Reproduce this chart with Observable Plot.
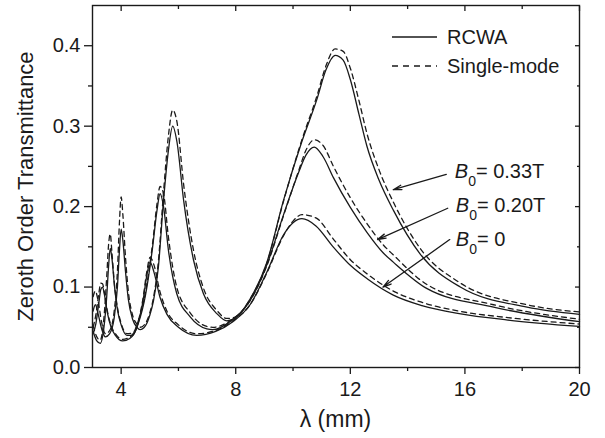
<!DOCTYPE html>
<html><head><meta charset="utf-8">
<script src="https://cdn.jsdelivr.net/npm/d3@7"></script>
<script src="https://cdn.jsdelivr.net/npm/@observablehq/plot@0.6"></script>
<style>
body{margin:0;background:#fff}
svg{font-family:"Liberation Sans",Arial,sans-serif}
</style>
</head><body><div id="chart"></div>
<script>
// wavelength grids (mm) and transmittance values per field
const lambdaB0 = [3.02,3.12,3.22,3.29,3.35,3.42,3.52,3.65,3.8,4.05,4.3,4.55,4.75,4.9,5.01,5.15,5.35,5.6,6.0,6.64,7.3,7.9,8.5,9.08,9.67,10.0,10.31,10.8,11.4,12.0,12.6,13.5,14.5,15.8,17.5,20];
const rcwaB0   = [0.042,0.055,0.080,0.097,0.100,0.090,0.068,0.050,0.040,0.033,0.036,0.050,0.080,0.115,0.131,0.118,0.088,0.066,0.050,0.040,0.045,0.057,0.078,0.118,0.165,0.180,0.185,0.176,0.150,0.127,0.110,0.090,0.077,0.067,0.059,0.051];
const singleB0 = [0.050,0.066,0.092,0.105,0.104,0.092,0.070,0.052,0.042,0.035,0.038,0.052,0.083,0.120,0.137,0.127,0.095,0.070,0.053,0.042,0.046,0.058,0.078,0.117,0.164,0.182,0.190,0.186,0.160,0.134,0.116,0.095,0.081,0.070,0.062,0.054];

const lambdaB20 = [3.02,3.15,3.27,3.4,3.5,3.56,3.62,3.68,3.77,3.88,4.0,4.2,4.4,4.6,4.85,5.1,5.25,5.36,5.48,5.65,5.94,6.41,6.99,7.2,7.8,8.5,9.08,9.67,10.2,10.45,10.74,11.05,11.41,12.0,12.58,13.16,13.5,14.68,17.0,20];
const rcwaB20   = [0.045,0.033,0.030,0.050,0.090,0.125,0.148,0.135,0.100,0.070,0.053,0.040,0.040,0.055,0.090,0.150,0.195,0.216,0.200,0.146,0.092,0.063,0.048,0.047,0.057,0.083,0.127,0.190,0.243,0.264,0.274,0.262,0.236,0.199,0.168,0.142,0.131,0.098,0.075,0.057];
const singleB20 = [0.052,0.038,0.034,0.062,0.115,0.152,0.166,0.142,0.102,0.073,0.055,0.042,0.043,0.058,0.094,0.155,0.203,0.225,0.216,0.162,0.100,0.068,0.051,0.050,0.058,0.083,0.126,0.189,0.245,0.270,0.283,0.276,0.250,0.211,0.179,0.152,0.140,0.103,0.078,0.060];

const lambdaB33 = [3.02,3.1,3.2,3.32,3.45,3.6,3.75,3.87,3.94,4.0,4.06,4.15,4.25,4.4,4.55,4.66,4.85,5.0,5.13,5.3,5.48,5.65,5.8,5.95,6.18,6.53,6.87,7.34,7.69,8.0,8.5,9.08,9.67,10.3,10.83,11.15,11.47,11.75,12.0,12.3,12.58,13.0,13.51,14.44,15.84,18.17,20];
const rcwaB33   = [0.070,0.078,0.066,0.048,0.038,0.042,0.060,0.100,0.145,0.172,0.158,0.120,0.085,0.060,0.050,0.047,0.052,0.065,0.083,0.125,0.208,0.270,0.300,0.280,0.208,0.133,0.092,0.067,0.058,0.062,0.085,0.130,0.208,0.280,0.333,0.370,0.388,0.382,0.358,0.315,0.275,0.233,0.195,0.141,0.100,0.075,0.066];
const singleB33 = [0.088,0.095,0.082,0.056,0.042,0.046,0.068,0.120,0.180,0.212,0.190,0.138,0.095,0.065,0.054,0.050,0.055,0.068,0.087,0.132,0.218,0.288,0.320,0.305,0.228,0.145,0.099,0.071,0.061,0.063,0.085,0.129,0.207,0.282,0.337,0.375,0.396,0.393,0.372,0.332,0.291,0.246,0.205,0.148,0.105,0.078,0.069];

const xTicks = [4,8,12,16,20];
const xMinor = [6,10,14,18];
const yTicks = [0,0.1,0.2,0.3,0.4];
const yMinor = [0.05,0.15,0.25,0.35];

const fieldNames = ["0.33T","0.20T","0"];
const labelX = [15.665,15.70,15.70];
const labelY = [0.2351,0.1932,0.1505];
const arrowX1 = [15.35,15.40,15.47];
const arrowY1 = [0.240,0.198,0.159];
const arrowX2 = [13.50,12.95,13.14];
const arrowY2 = [0.221,0.159,0.100];

const legendNames = ["RCWA","Single-mode"];

function rows(xs, ys, field){ return xs.map((x,i)=>({lambda:x, T:ys[i], field})); }
const solid = [...rows(lambdaB0,rcwaB0,"0"),...rows(lambdaB20,rcwaB20,"0.20T"),...rows(lambdaB33,rcwaB33,"0.33T")];
const dashed = [...rows(lambdaB0,singleB0,"0"),...rows(lambdaB20,singleB20,"0.20T"),...rows(lambdaB33,singleB33,"0.33T")];
const arrows = fieldNames.map((f,i)=>({x1:arrowX1[i],y1:arrowY1[i],x2:arrowX2[i],y2:arrowY2[i]}));

const ink = "#1a1a1a";
const plot = Plot.plot({
  width:605, height:438,
  marginLeft:92, marginRight:26, marginTop:5, marginBottom:71,
  x:{domain:[3,20]},
  y:{domain:[0,0.45]},
  style:{fontFamily:"'Liberation Sans',Arial,sans-serif", fontSize:"20px", color:ink, background:"#fff", overflow:"visible"},
  marks:[
    Plot.line(solid,{x:"lambda",y:"T",z:"field",curve:"monotone-x",stroke:ink,strokeWidth:1.3}),
    Plot.line(dashed,{x:"lambda",y:"T",z:"field",curve:"monotone-x",stroke:ink,strokeWidth:1.3,strokeDasharray:"5,4"}),
    Plot.frame({stroke:ink,strokeWidth:1.4}),
    Plot.axisX(xTicks,{anchor:"bottom",tickSize:7,tickPadding:7,strokeWidth:1.3,label:null,fontSize:20}),
    Plot.axisX(xMinor,{anchor:"bottom",tickSize:4,strokeWidth:1.3,text:null,label:null}),
    Plot.axisX(xTicks,{anchor:"top",tickSize:-5,strokeWidth:1.3,text:null,label:null}),
    Plot.axisX(xMinor,{anchor:"top",tickSize:-3,strokeWidth:1.3,text:null,label:null}),
    Plot.axisY(yTicks,{anchor:"left",tickSize:8,tickPadding:4,strokeWidth:1.3,tickFormat:d3.format(".1f"),label:null,fontSize:20}),
    Plot.axisY(yMinor,{anchor:"left",tickSize:4,strokeWidth:1.3,text:null,label:null}),
    Plot.axisY(yTicks,{anchor:"right",tickSize:-5,strokeWidth:1.3,text:null,label:null}),
    Plot.axisY(yMinor,{anchor:"right",tickSize:-3,strokeWidth:1.3,text:null,label:null}),
    Plot.arrow(arrows,{x1:"x1",y1:"y1",x2:"x2",y2:"y2",stroke:ink,strokeWidth:1.3,headLength:10,headAngle:30})
  ]
});

const svg = d3.select(plot);
const sx = plot.scale("x"), sy = plot.scale("y");

// axis titles
svg.append("text").attr("transform","translate(33,186.5) rotate(-90)").attr("text-anchor","middle")
  .attr("font-size",22).attr("fill",ink).text("Zeroth Order Transmittance");
svg.append("text").attr("x",(sx.apply(3)+sx.apply(20))/2).attr("y",427).attr("text-anchor","middle")
  .attr("font-size",23).attr("fill",ink).text("λ (mm)");

// legend
const leg = svg.append("g").attr("text-anchor","start");
legendNames.forEach((name,i)=>{
  const yy = 37 + i*29;
  leg.append("line").attr("x1",392).attr("x2",437).attr("y1",yy).attr("y2",yy)
    .attr("stroke",ink).attr("stroke-width",1.3).attr("stroke-dasharray", i===0 ? null : "6,5");
  leg.append("text").attr("x",447).attr("y",yy+7).attr("text-anchor","start")
    .attr("font-size",20).attr("fill",ink).text(name);
});

// field labels
fieldNames.forEach((f,i)=>{
  const t = svg.append("text").attr("x",sx.apply(labelX[i])).attr("y",sy.apply(labelY[i]))
    .attr("text-anchor","start").attr("font-size",20).attr("fill",ink);
  t.append("tspan").attr("font-style","italic").text("B");
  t.append("tspan").attr("font-size",14).attr("dy",8).text("0");
  t.append("tspan").attr("dy",-8).text("= " + f);
});

document.getElementById("chart").appendChild(plot);
</script>
</body></html>
